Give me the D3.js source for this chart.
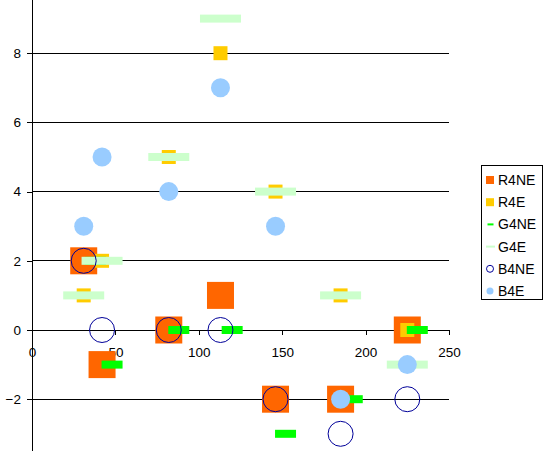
<!DOCTYPE html>
<html><head><meta charset="utf-8">
<script src="https://cdn.jsdelivr.net/npm/d3@7"></script>
<style>html,body{margin:0;padding:0;background:#fff;overflow:hidden}svg{display:block;font-family:"Liberation Sans",Arial,sans-serif}</style>
</head><body><svg id="chart" width="547" height="451"></svg>
<script>
// shared x positions for most series
const xMain = [31, 42, 82, 113, 146, 185, 225];
const xG4NE = [38, 48, 88, 120, 152, 192, 231];
const R4NE = [2, -1, 0, 1, -2, -2, 0];
const R4E  = [1, 2, 5, 8, 4, 1, 0];
const G4NE = [2, -1, 0, 0, -3, -2, 0];
const G4E  = [1, 2, 5, 9, 4, 1, -1];
const B4NE = [2, 0, 0, 0, -2, -3, -2];
const B4E  = [3, 5, 4, 7, 3, -2, -1];
const xTicks = [0, 50, 100, 150, 200, 250];
const yTicks = [-2, 0, 2, 4, 6, 8];
const seriesNames = ["R4NE", "R4E", "G4NE", "G4E", "B4NE", "B4E"];

const svg = d3.select("#chart");
const x = d3.scaleLinear().domain([0, 250]).range([32, 449]);
const y = d3.scaleLinear().domain([-4, 10]).range([468.4, -16]);

// gridlines
svg.append("g").selectAll("line").data(yTicks.filter(d => d !== 0)).join("line")
  .attr("x1", x(0)).attr("x2", x(250)).attr("y1", d => y(d)).attr("y2", d => y(d))
  .attr("stroke", "#000").attr("stroke-width", 1).attr("shape-rendering", "crispEdges");

// y axis
const yAxis = svg.append("g").attr("transform", `translate(${x(0)},0)`)
  .call(d3.axisLeft(y).tickValues(yTicks).tickSize(5).tickSizeOuter(0).tickPadding(6));
yAxis.select(".domain").attr("stroke", "#000").attr("shape-rendering", "crispEdges");
yAxis.selectAll(".tick line").attr("stroke", "#000").attr("shape-rendering", "crispEdges");
yAxis.selectAll("text").attr("font-size", 13.5).attr("fill", "#000")
  .attr("font-family", '"Liberation Sans",Arial,sans-serif');

// x axis at y=0
const xAxis = svg.append("g").attr("transform", `translate(0,${y(0)})`)
  .call(d3.axisBottom(x).tickValues(xTicks).tickSize(5).tickSizeOuter(0).tickPadding(12));
xAxis.select(".domain").attr("stroke", "#000").attr("shape-rendering", "crispEdges");
xAxis.selectAll(".tick line").attr("stroke", "#000").attr("shape-rendering", "crispEdges");
xAxis.selectAll("text").attr("font-size", 13.5).attr("fill", "#000")
  .attr("font-family", '"Liberation Sans",Arial,sans-serif');

const pts = (xs, ys) => xs.map((v, i) => ({x: v, y: ys[i]}));

// R4NE big orange squares
svg.append("g").selectAll("rect").data(pts(xMain, R4NE)).join("rect")
  .attr("x", d => x(d.x) - 13.5).attr("y", d => y(d.y) - 13.5)
  .attr("width", 27).attr("height", 27).attr("fill", "#FF6600");
// R4E gold squares
svg.append("g").selectAll("rect").data(pts(xMain, R4E)).join("rect")
  .attr("x", d => x(d.x) - 7).attr("y", d => y(d.y) - 7)
  .attr("width", 14).attr("height", 14).attr("fill", "#FFCC00");
// G4NE green dashes
svg.append("g").selectAll("rect").data(pts(xG4NE, G4NE)).join("rect")
  .attr("x", d => x(d.x) - 10.5).attr("y", d => y(d.y) - 4)
  .attr("width", 21).attr("height", 8).attr("fill", "#00FF00");
// G4E pale green dashes
svg.append("g").selectAll("rect").data(pts(xMain, G4E)).join("rect")
  .attr("x", d => x(d.x) - 20.5).attr("y", d => y(d.y) - 4)
  .attr("width", 41).attr("height", 8).attr("fill", "#CCFFCC");
// B4NE open circles
svg.append("g").selectAll("circle").data(pts(xMain, B4NE)).join("circle")
  .attr("cx", d => x(d.x)).attr("cy", d => y(d.y)).attr("r", 12.5)
  .attr("fill", "none").attr("stroke", "#000099").attr("stroke-width", 1);
// B4E light blue filled circles
svg.append("g").selectAll("circle").data(pts(xMain, B4E)).join("circle")
  .attr("cx", d => x(d.x)).attr("cy", d => y(d.y)).attr("r", 9.5)
  .attr("fill", "#99CCFF");

// legend
const lg = svg.append("g");
lg.append("rect").attr("x", 481.5).attr("y", 165.5).attr("width", 61).attr("height", 134)
  .attr("fill", "#fff").attr("stroke", "#000").attr("stroke-width", 1);
const ly = i => 180 + i * 22.2;
const lx = 490;
seriesNames.forEach((name, i) => {
  const cy = ly(i);
  if (i === 0) lg.append("rect").attr("x", lx - 4).attr("y", cy - 4).attr("width", 8).attr("height", 8).attr("fill", "#FF6600");
  if (i === 1) lg.append("rect").attr("x", lx - 4).attr("y", cy - 4).attr("width", 8).attr("height", 8).attr("fill", "#FFCC00");
  if (i === 2) lg.append("rect").attr("x", lx - 2.5).attr("y", cy - 1).attr("width", 6).attr("height", 2).attr("fill", "#00FF00");
  if (i === 3) lg.append("rect").attr("x", lx - 4).attr("y", cy - 1).attr("width", 9).attr("height", 2).attr("fill", "#CCFFCC");
  if (i === 4) lg.append("circle").attr("cx", lx).attr("cy", cy).attr("r", 3.5).attr("fill", "none").attr("stroke", "#000099");
  if (i === 5) lg.append("circle").attr("cx", lx).attr("cy", cy).attr("r", 3.5).attr("fill", "#99CCFF");
  lg.append("text").attr("x", 498).attr("y", cy).attr("dy", "0.36em")
    .attr("font-size", 14).attr("fill", "#000").text(name);
});
</script></body></html>
